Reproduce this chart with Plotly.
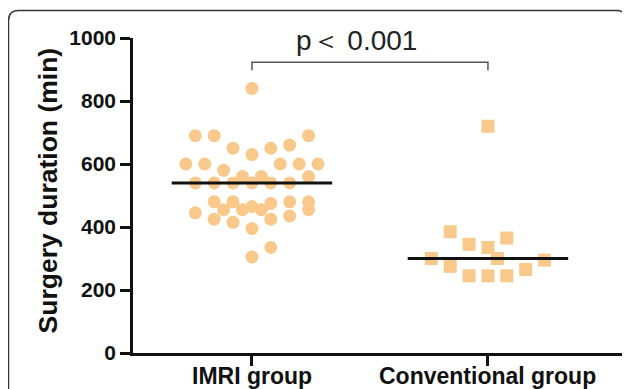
import numpy as np
import plotly.graph_objects as go

# ---------------- data ----------------
categories = ["IMRI group", "Conventional group"]

imri_values = [840,
               690, 690, 690,
               650, 660, 650,
               630,
               600, 600, 600, 600, 600,
               580,
               560, 560, 560,
               540, 540, 540, 540, 540, 540,
               480, 480, 480, 480,
               475,
               465,
               455, 455, 455, 455,
               445,
               425, 425, 435,
               415,
               395,
               335,
               305]
imri_slot = [0,
             -6, -4, 6,
             -2, 4, 2,
             0,
             -7, -5, 3, 5, 7,
             -3,
             -1, 1, 6,
             -6, -4, -2, 0, 2, 4,
             -4, -2, 4, 6,
             2,
             0,
             -3, -1, 1, 6,
             -6,
             -4, 2, 4,
             -2,
             0,
             2,
             0]

conv_values = [720, 385, 345, 365, 335, 300, 300, 295, 275, 265, 245, 245, 245]
conv_slot = [0, -4, -2, 2, 0, -6, 1, 6, -4, 4, -2, 0, 2]

y_ticks = [0, 200, 400, 600, 800, 1000]
y_title = "Surgery duration (min)"
p_text = "p＜ 0.001"

# ---------------- layout helpers ----------------
OFF = 8                      # page body margin of the browser
WIN_W, WIN_H = 630, 389
W, H = WIN_W - OFF, WIN_H - OFF
AX_X, AX_TOP, AX_BOT = 133, 38, 353   # window pixel positions of the axes
L, T, R = AX_X - OFF, AX_TOP - OFF, 0
B = WIN_H - AX_BOT
PW, PH = W - L - R, H - T - B
STEP = 0.04
HALF = 0.34
XR = [0.496, 0.496 + PW / 236.0]


def px2paper(x, y):
    """window pixel -> paper coordinates"""
    return (x - AX_X) / PW, (AX_BOT - y) / PH


ORANGE = "#F9C98B"
FONT = "Liberation Sans, Arial, sans-serif"

fig = go.Figure()

imri_x = [1 + s * STEP for s in imri_slot]
conv_x = [2 + s * STEP for s in conv_slot]

fig.add_trace(go.Scatter(x=imri_x, y=imri_values, mode="markers",
                         marker=dict(symbol="circle", size=13, color=ORANGE,
                                     line=dict(width=0)),
                         showlegend=False, cliponaxis=False))
fig.add_trace(go.Scatter(x=conv_x, y=conv_values, mode="markers",
                         marker=dict(symbol="square", size=13, color=ORANGE,
                                     line=dict(width=0)),
                         showlegend=False, cliponaxis=False))

for i, vals in enumerate([imri_values, conv_values]):
    med = float(np.median(vals))
    c = i + 1
    fig.add_trace(go.Scatter(x=[c - HALF, c + HALF], y=[med, med], mode="lines",
                             line=dict(color="#111111", width=3),
                             showlegend=False, hoverinfo="skip"))

# significance bracket
fig.add_trace(go.Scatter(x=[1, 1, 2, 2], y=[898, 923, 923, 898], mode="lines",
                         line=dict(color="#555555", width=1.5),
                         showlegend=False, hoverinfo="skip", cliponaxis=False))

fig.add_annotation(x=1.445, y=991, xref="x", yref="y", text=p_text,
                   showarrow=False, font=dict(family=FONT, size=28, color="#222222"),
                   xanchor="center", yanchor="middle")

# category labels (placed as annotations for exact vertical position)
_, ly = px2paper(0, 375.5)
for i, cat in enumerate(categories):
    fig.add_annotation(x=i + 1, y=ly, xref="x", yref="paper", text=cat,
                       showarrow=False,
                       font=dict(family=FONT, size=23, color="#111111", weight="bold"),
                       xanchor="center", yanchor="middle")

# y title
tx, _ = px2paper(48, 0)
fig.add_annotation(x=tx, y=516, xref="paper", yref="y", text=y_title,
                   textangle=-90, showarrow=False,
                   font=dict(family=FONT, size=26.5, color="#111111", weight="bold"),
                   xanchor="center", yanchor="middle")

# rounded frame
x0, y0 = px2paper(8.5, 10.5)
x1, _ = px2paper(626.5, 0)
_, yb = px2paper(0, 420)
r = 10
rx, ry = r / PW, r / PH
path = (f"M {x0},{yb} L {x0},{y0 - ry} Q {x0},{y0} {x0 + rx},{y0} "
        f"L {x1 - rx},{y0} Q {x1},{y0} {x1},{y0 - ry} L {x1},{yb}")
fig.add_shape(type="path", path=path, xref="paper", yref="paper",
              line=dict(color="#333333", width=1.5), layer="above")

fig.update_layout(
    width=W, height=H,
    margin=dict(l=L, r=R, t=T, b=B, pad=0, autoexpand=False),
    paper_bgcolor="white", plot_bgcolor="white",
    xaxis=dict(range=XR, tickvals=[1, 2], showticklabels=False, automargin=False,
               showgrid=False, zeroline=False, showline=True,
               linecolor="#111111", linewidth=2.5,
               ticks="outside", ticklen=10, tickwidth=2.5, tickcolor="#111111",
               fixedrange=True),
    yaxis=dict(range=[0, 1000], tickvals=y_ticks, automargin=False,
               showgrid=False, zeroline=False,
               showline=True, linecolor="#111111", linewidth=2.5,
               ticks="outside", ticklen=10, tickwidth=2.5, tickcolor="#111111",
               tickfont=dict(family=FONT, size=21, color="#111111", weight="bold"),
               fixedrange=True),
)

fig.write_html("out.html")
